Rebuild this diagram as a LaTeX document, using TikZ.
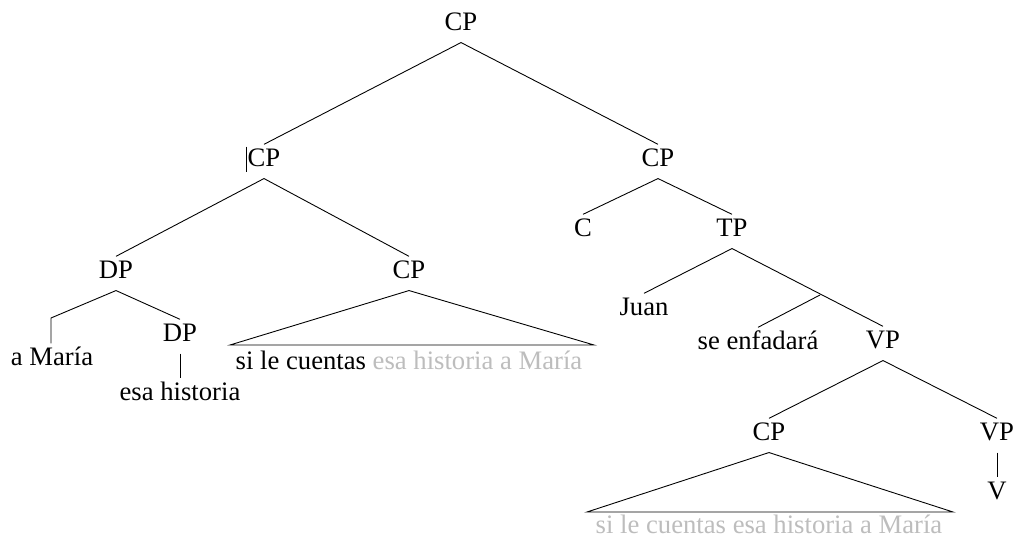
\documentclass[tikz,border=0pt]{standalone}
\usepackage{fontspec}
\setmainfont{Liberation Serif}
\definecolor{faded}{gray}{0.74}
\tikzset{lbl/.style={inner sep=2pt, anchor=base, text height=8pt, text depth=3pt,
    font=\fontsize{12}{14}\selectfont}}

\begin{document}
\begin{tikzpicture}[x=0.45pt, y=-0.45pt, every node/.style={lbl}]
  \useasboundingbox (0,0) rectangle (1015,538);

  \node (cp0) at (461,31) {CP};
  \node (cp1) at (264,167) {CP};
  \node (cp2) at (658,167) {CP};
  \draw (cp0.south)--(cp1.north);
  \draw (cp0.south)--(cp2.north);
  \draw ([xshift=1.5pt,yshift=-1pt]cp1.north west)--([xshift=1.5pt,yshift=3pt]cp1.south west);

  % left branch
  \node (dp1) at (116,279) {DP};
  \node (cp3) at (409,279) {CP};
  \draw (cp1.south)--(dp1.north);
  \draw (cp1.south)--(cp3.north);

  \node (amaria) at (52,366) {a María};
  \node (dp2) at (180,342) {DP};
  \node (esa) at (180,401) {esa historia};
  \coordinate (bend) at (51,318);
  \draw (dp1.south)--(bend)--(bend |- amaria.north);
  \draw (dp1.south)--(dp2.north);
  \draw (dp2.south)--(esa.north);

  \coordinate (tri1l) at (230,345);
  \coordinate (tri1r) at (594,345);
  \draw (cp3.south)--(tri1l)--(tri1r)--cycle;
  \node (si1) at (409,370) {si le cuentas \textcolor{faded}{esa historia a María}};

  % right branch
  \node (c) at (583,237) {C};
  \node (tp) at (732,237) {TP};
  \draw (cp2.south)--(c.north);
  \draw (cp2.south)--(tp.north);

  \node (juan) at (644,316) {Juan};
  \node (se) at (758,350) {se enfadará};
  \node (vp1) at (883,349) {VP};
  \coordinate (tpmid) at (820,295);
  \draw (tp.south)--(juan.north);
  \draw (tp.south)--(vp1.north);
  \draw (tpmid)--(se.north);

  \node (cp4) at (769,441) {CP};
  \node (vp2) at (997,441) {VP};
  \node (v) at (997,500) {V};
  \draw (vp1.south)--(cp4.north);
  \draw (vp1.south)--(vp2.north);
  \draw (vp2.south)--(v.north);

  \coordinate (tri2l) at (587,512);
  \coordinate (tri2r) at (953,512);
  \draw (cp4.south)--(tri2l)--(tri2r)--cycle;
  \node[text depth=0pt, inner sep=0pt] (si2) at (769,534) {\textcolor{faded}{si le cuentas esa historia a María}};
\end{tikzpicture}
\end{document}
